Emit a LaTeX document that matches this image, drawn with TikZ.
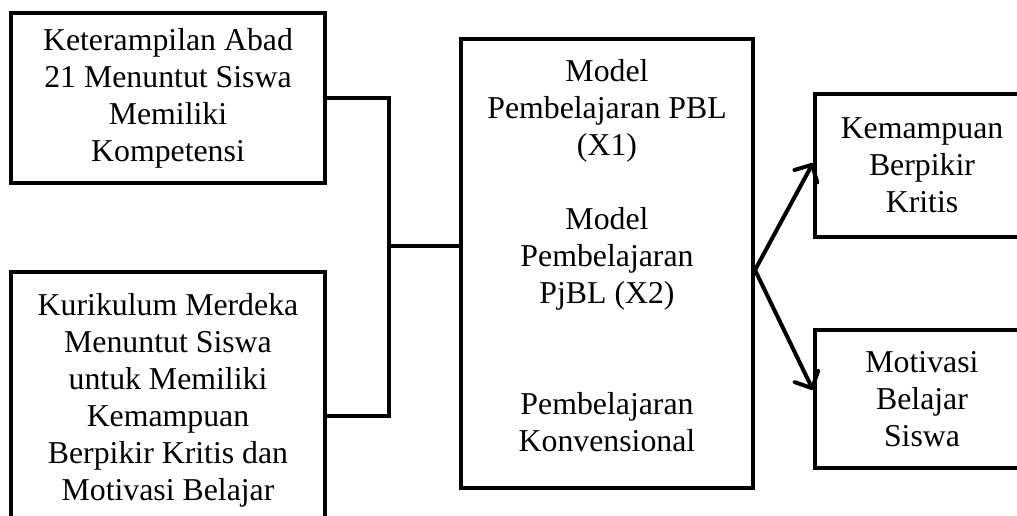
\documentclass[tikz,border=0pt]{standalone}
\usepackage{fontspec}
\setmainfont{Liberation Serif}
\usetikzlibrary{arrows.meta}
\tikzset{
  box/.style={draw, line width=4pt, inner sep=0pt, align=center, rectangle,
    font=\fontsize{31.8}{37}\selectfont},
  conn/.style={line width=4pt, line cap=round, line join=miter},
  arr/.style={conn, -{Straight Barb[length=13pt,width=26pt,line cap=round,line join=round]}},
}
\begin{document}
\begin{tikzpicture}[x=1pt,y=-1pt]
\clip (0,0) rectangle (1017,515);
\fill[white] (0,0) rectangle (1017,515);
\node[box, minimum width=314pt, minimum height=170pt] (b1) at (168,98)
  {Keterampilan Abad\\21 Menuntut Siswa\\Memiliki\\Kompetensi};
\node[box, minimum width=314pt, minimum height=256pt] (b2) at (168,400)
  {Kurikulum Merdeka\\Menuntut Siswa\\untuk Memiliki\\Kemampuan\\Berpikir Kritis dan\\Motivasi Belajar};
\node[box, minimum width=292pt, minimum height=449pt] (mid) at (607,263.5) {};
\node[align=center, inner sep=0pt, font=\fontsize{31.8}{37}\selectfont] (midtext) at (607,256)
  {Model\\Pembelajaran PBL\\(X1)\\[37pt]Model\\Pembelajaran\\PjBL (X2)\\[74pt]Pembelajaran\\Konvensional};
\node[box, minimum width=214pt, minimum height=143pt] (r1) at (922,165.5)
  {Kemampuan\\Berpikir\\Kritis};
\node[box, minimum width=214pt, minimum height=138pt] (r2) at (922,399)
  {Motivasi\\Belajar\\Siswa};
% bracket
\coordinate (bx) at (389,0);
\coordinate (b2e) at (b2.east |- 0,416);
\coordinate (mide) at (mid.west |- 0,246);
\draw[conn] (b1.east) -| (bx |- 0,246) |- (b2e);
\draw[conn] (bx |- 0,246) -- (mide);
% arrows
\coordinate (j) at (mid.east |- 0,270);
\draw[arr] (j) -- (r1.west |- 0,163);
\draw[arr] (j) -- (r2.west |- 0,390);
\end{tikzpicture}
\end{document}
